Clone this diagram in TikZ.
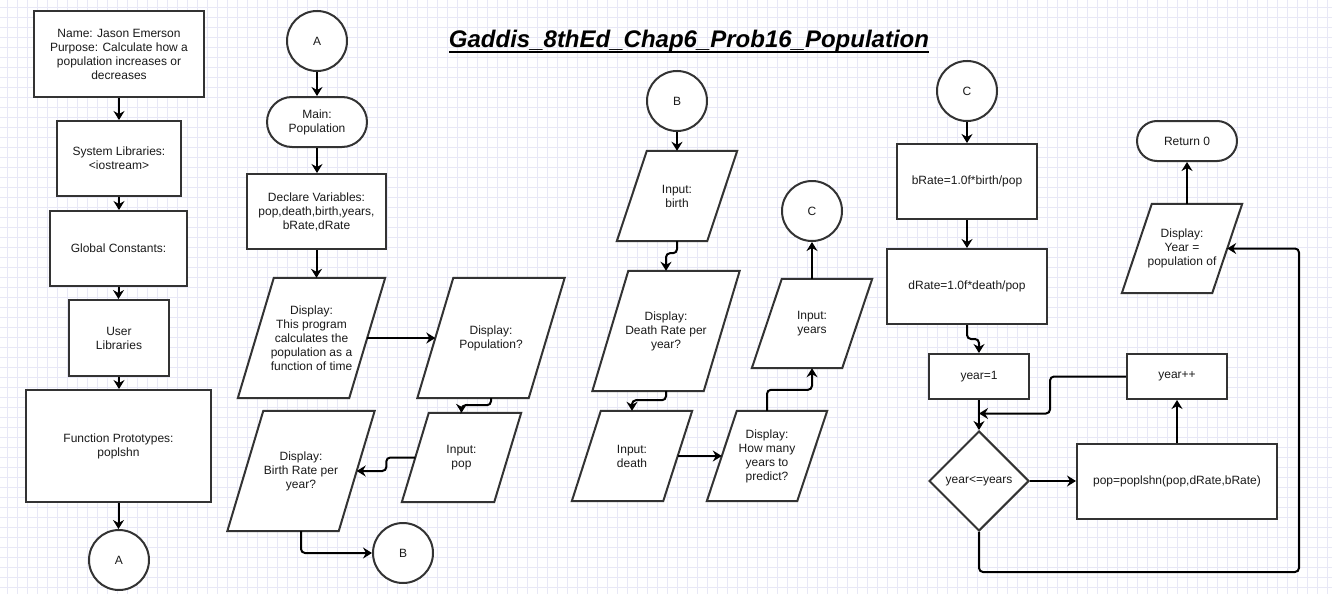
\documentclass[tikz,border=0pt]{standalone}
\usepackage{fontspec}
\setmainfont{Liberation Sans}
\usetikzlibrary{arrows.meta, positioning, shapes.geometric, calc, backgrounds}
\definecolor{flowLine}{HTML}{333333}
\definecolor{flowText}{HTML}{1A1A1A}
\definecolor{flowGrid}{HTML}{E8E8F6}

\begin{document}
\begin{tikzpicture}[
  x=1pt, y=-1pt,
  font=\fontsize{12}{14}\selectfont, text=flowText,
  proc/.style 2 args={draw=flowLine, line width=2pt, fill=white, align=center,
                      minimum width=#1, minimum height=#2, inner sep=2pt},
  io/.style 2 args={minimum width=#1, minimum height=#2, inner sep=0pt, align=center},
  conn/.style={circle, draw=flowLine, line width=2pt, fill=white,
               minimum size=60pt, inner sep=0pt},
  dec/.style={diamond, aspect=1, draw=flowLine, line width=2pt, fill=white,
              minimum width=100pt, minimum height=100pt, inner sep=0pt},
  a/.style={-{Stealth[length=9pt,width=11pt,inset=3pt]}, line width=2pt, black,
            rounded corners=4pt}
]
\useasboundingbox (0,0) rectangle (1332,594);

% grid paper
\begin{scope}[on background layer]
  \foreach \g in {7,17,...,1327}
    \draw[flowGrid, line width=0.8pt] (\g,0) -- (\g,594);
  \foreach \g in {7,17,...,587}
    \draw[flowGrid, line width=0.8pt] (0,\g) -- (1332,\g);
\end{scope}

\node[font=\fontsize{24}{28}\selectfont\bfseries\itshape, text=black,
      inner sep=0pt, anchor=base] (title) at (689,48)
  {Gaddis\_8thEd\_Chap6\_Prob16\_Population};
\draw[line width=2pt, black] ($(title.base west)+(0,4)$) -- ($(title.base east)+(0,4)$);

% header column
\node[proc={170}{86}] (info) at (119,54) {Name: Jason Emerson\\Purpose: Calculate how a\\population increases or\\decreases};
\node[proc={124}{75}] (sysLib) at (119,158.5) {System Libraries:\\<iostream>};
\node[proc={137}{75}] (globConst) at (118.5,248.5) {Global Constants:};
\node[proc={100}{76}] (userLib) at (119,338) {User\\Libraries};
\node[proc={185}{112}] (protos) at (118.5,446) {Function Prototypes:\\poplshn};
\node[conn] (startA) at (119,560) {A};

\foreach \f/\t in {info/sysLib, sysLib/globConst, globConst/userLib, userLib/protos, protos/startA}
  \draw[a] (\f.south) -- (\f.south |- \t.north);

% main, part A
\node[conn] (mainA) at (317,41) {A};
\node[proc={100}{50}, rounded corners=25pt] (mainStart) at (317,122) {Main:\\Population};
\node[proc={139}{75}] (declare) at (316.5,211.5) {Declare Variables:\\pop,death,birth,years,\\bRate,dRate};
\node[io={111}{120}] (intro) at (311.5,338) {Display:\\This program\\calculates the\\population as a\\function of time};
\node[io={111}{120}] (askPop) at (491,338) {Display:\\Population?};
\node[io={92}{89}] (inPop) at (461.5,457.5) {Input:\\pop};
\node[io={111}{120}] (askBirth) at (301,471) {Display:\\Birth Rate per\\year?};
\node[conn] (toB) at (403,553) {B};

\draw[a] (mainA) -- (mainStart);
\draw[a] (mainStart.south) -- (mainStart.south |- declare.north);
\draw[a] (declare.south) -- (declare.south |- intro.north);
\draw[a] (intro.east) -- (askPop.west);
\draw[a] (askPop.south) -- ++(0,7) -| (inPop.north);
\draw[a] (inPop.west) -- ++(-29,0) |- (askBirth.east);
\draw[a] (askBirth.south) |- (toB.west);

% part B
\node[conn] (fromB) at (677,101) {B};
\node[io={90}{90}] (inBirth) at (677,196) {Input:\\birth};
\node[io={111}{120}] (askDeath) at (666,331) {Display:\\Death Rate per\\year?};
\node[io={91}{90}] (inDeath) at (632,456) {Input:\\death};
\node[io={90}{90}] (askYears) at (767,456) {Display:\\How many\\years to\\predict?};
\node[io={90}{89}] (inYears) at (812,323.5) {Input:\\years};
\node[conn] (toC) at (812,211) {C};

\draw[a] (fromB) -- (inBirth);
\draw[a] (inBirth.south) -- ++(0,12) -| (askDeath.north);
\draw[a] (askDeath.south) -- ++(0,9) -| (inDeath.north);
\draw[a] (inDeath.east) -- (askYears.west);
\draw[a] (askYears.north) -- ++(0,-21) -| (inYears.south);
\draw[a] (inYears) -- (toC);

% part C
\node[conn] (fromC) at (967,91) {C};
\node[proc={140}{75}] (bRate) at (967,181.5) {bRate=1.0f*birth/pop};
\node[proc={160}{75}] (dRate) at (967,286.5) {dRate=1.0f*death/pop};
\node[proc={100}{45}] (yearInit) at (979,376.5) {year=1};
\node[dec] (loopTest) at (979,481) {year<=years};
\node[proc={200}{75}] (popCalc) at (1177,481.5) {pop=poplshn(pop,dRate,bRate)};
\node[proc={100}{45}] (yearInc) at (1177,376.5) {year++};
\node[io={90}{89}] (showPop) at (1182,248.5) {Display:\\Year =\\population of};
\node[proc={100}{40}, rounded corners=20pt] (retZero) at (1187,141) {Return 0};

\path (yearInit.south) -- (loopTest.north) coordinate[pos=0.45] (merge);
\coordinate (loopBack) at (1299,572);

\draw[a] (fromC) -- (bRate);
\draw[a] (bRate) -- (dRate);
\draw[a] (dRate.south) -- ++(0,14) -| (yearInit.north);
\draw[a] (yearInit) -- (loopTest);
\draw[a] (loopTest.east) -- (loopTest.east -| popCalc.west);
\draw[a] (popCalc) -- (yearInc);
\draw[a] (yearInc.west) -- ++(-76,0) |- (merge);
\draw[a] (loopTest.south) |- (loopBack) |- (showPop.east);
\draw[a] (retZero.south |- showPop.north) -- (retZero.south);

% slanted input/output outlines
\begin{scope}[on background layer]
  \foreach \n/\s in {intro/36, askPop/36, inPop/27, askBirth/36, inBirth/30,
                     askDeath/36, inDeath/29, askYears/30, inYears/30, showPop/30}
    \filldraw[fill=white, draw=flowLine, line width=2pt]
      ($(\n.north west)+(\s/2,0)$) -- ($(\n.north east)+(\s/2,0)$) --
      ($(\n.south east)-(\s/2,0)$) -- ($(\n.south west)-(\s/2,0)$) -- cycle;
\end{scope}
\end{tikzpicture}
\end{document}
